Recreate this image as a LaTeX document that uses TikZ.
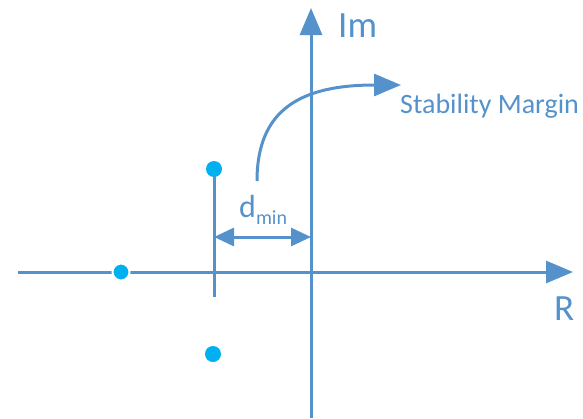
\documentclass[tikz,border=0pt]{standalone}
\usepackage{fontspec}
\setmainfont{Carlito}
\usetikzlibrary{arrows.meta}
\definecolor{ax}{HTML}{5592CB}
\definecolor{pole}{HTML}{00B0F0}
\tikzset{
  axis/.style={draw=ax, line width=3pt},
  axarrow/.style={axis, -{Triangle[length=27pt,width=22pt]}},
  dimarrow/.style={axis, {Triangle[length=20pt,width=18pt]}-{Triangle[length=20pt,width=18pt]}},
  polept/.style={circle, fill=pole, draw=white, line width=2pt, minimum size=17pt, inner sep=0pt},
  lbl/.style={text=ax, inner sep=0pt}
}
\begin{document}
\begin{tikzpicture}[x=1pt,y=-1pt]
\useasboundingbox (0,0) rectangle (583,418);
% axes
\coordinate (xs) at (18,272);
\coordinate (xe) at (573,272);
\coordinate (ys) at (311,418);
\coordinate (ye) at (311,8);
\draw[axarrow] (xs) -- (xe);
\draw[axarrow] (ys) -- (ye);
\node[lbl, font=\fontsize{37}{37}\selectfont, anchor=base west] (im) at (338,37) {Im};
\node[lbl, font=\fontsize{37}{37}\selectfont, anchor=base west] (r) at (554,320) {R};
% poles
\node[polept] (p1) at (121,272) {};
\node[polept, draw=none, minimum size=16pt] (p2) at (214,169) {};
\node[polept, draw=none, minimum size=16pt] (p3) at (213,354) {};
% vertical marker line
\coordinate (vt) at (214,175);
\coordinate (vb) at (214,297);
\draw[axis] (vt) -- (vb);
% dimension arrow
\coordinate (da) at (214,237);
\coordinate (db) at (311,237);
\draw[dimarrow] (da) -- (db);
\node[lbl, font=\fontsize{32}{32}\selectfont, anchor=base west] (d) at (239,217) {d\raisebox{-7pt}{\fontsize{20}{20}\selectfont min}};
% stability margin curve
\coordinate (cs) at (257,181);
\coordinate (ce) at (401,85);
\draw[axis, -{Triangle[length=27pt,width=22pt]}] (cs) .. controls (257,110) and (300,85) .. (ce);
\node[lbl, font=\fontsize{28}{28}\selectfont, anchor=base west] (sm) at (400,113) {Stability Margin};
\end{tikzpicture}
\end{document}
